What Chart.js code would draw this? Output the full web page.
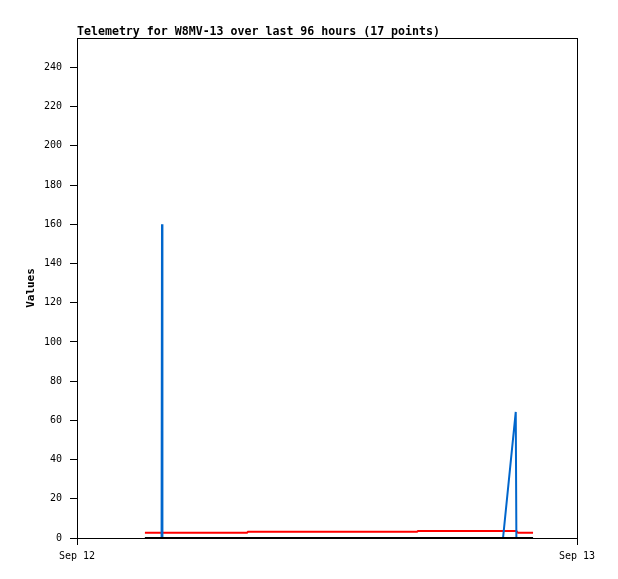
<!DOCTYPE html>
<html lang="en">
<head>
    <meta charset="UTF-8">
    <title>Telemetry for W8MV-13</title>
    <script src="https://cdn.jsdelivr.net/npm/chart.js"></script>
    <style>
        html, body { margin: 0; padding: 0; background: #fff; }
        #wrap { width: 618px; height: 579px; }
    </style>
</head>
<body>
    <div id="wrap"><canvas id="telemetryChart" width="618" height="579"></canvas></div>

    <script>
        // hours after Sep 12 00:00
        const hours = [3.26, 4.06, 4.08, 4.10, 5.90, 8.16, 8.21, 10.70, 13.58, 16.32, 16.37, 18.38, 20.45, 21.06, 21.09, 21.17, 21.89];
        const seriesBlack = [0, 0, 0, 0, 0, 0, 0, 0, 0, 0, 0, 0, 0, 0, 0, 0, 0];
        const seriesBlue  = [0, 0, 160, 0, 0, 0, 0, 0, 0, 0, 0, 0, 0, 64.3, 0, 0, 0];
        const seriesRed   = [2.65, 2.65, 2.65, 2.65, 2.65, 2.65, 3.15, 3.15, 3.15, 3.15, 3.6, 3.6, 3.6, 3.6, 3.6, 2.65, 2.65];
        const yTicks = [0, 20, 40, 60, 80, 100, 120, 140, 160, 180, 200, 220, 240];
        const xTickValues = [0, 24];
        const xTickLabels = ['Sep 12', 'Sep 13'];
        const chartTitle = 'Telemetry for W8MV-13 over last 96 hours (17 points)';

        const mono = "'DejaVu Sans Mono', 'Liberation Mono', monospace";

        function pts(values) {
            return values.map((v, i) => ({ x: hours[i], y: v }));
        }

        const frame = {
            id: 'frame',
            afterDraw(chart) {
                const ctx = chart.ctx;
                const a = chart.chartArea;
                ctx.save();
                ctx.strokeStyle = '#000';
                ctx.lineWidth = 1;
                ctx.strokeRect(a.left + 0.5, a.top + 0.5, a.right - a.left, a.bottom - a.top);
                ctx.fillStyle = '#000';
                ctx.font = 'bold 11.6px ' + mono;
                ctx.textBaseline = 'alphabetic';
                ctx.textAlign = 'left';
                ctx.fillText(chartTitle, a.left, 35);
                ctx.restore();
            }
        };

        const ctx = document.getElementById('telemetryChart').getContext('2d');
        const chart = new Chart(ctx, {
            type: 'line',
            data: {
                datasets: [
                    { label: 'black', data: pts(seriesBlack), borderColor: '#000000', borderWidth: 2 },
                    { label: 'blue', data: pts(seriesBlue), borderColor: '#0066cc', borderWidth: 2 },
                    { label: 'red', data: pts(seriesRed), borderColor: '#ff0000', borderWidth: 2 }
                ]
            },
            options: {
                responsive: false,
                animation: false,
                devicePixelRatio: 1,
                layout: { padding: { top: 38, right: 41, left: 0, bottom: 0 } },
                elements: {
                    point: { radius: 0 },
                    line: { tension: 0, fill: false }
                },
                plugins: {
                    legend: { display: false },
                    tooltip: { enabled: false },
                    title: { display: false }
                },
                scales: {
                    x: {
                        type: 'linear',
                        min: 0,
                        max: 24,
                        afterBuildTicks: scale => { scale.ticks = xTickValues.map(v => ({ value: v })); },
                        afterFit: scale => { scale.height = 41; },
                        ticks: {
                            color: '#000',
                            font: { family: mono, size: 10 },
                            padding: 5,
                            maxRotation: 0,
                            callback: v => xTickLabels[xTickValues.indexOf(v)]
                        },
                        grid: { drawOnChartArea: false, color: '#000', tickLength: 7 },
                        border: { color: '#000' }
                    },
                    y: {
                        min: 0,
                        max: 255,
                        afterBuildTicks: scale => { scale.ticks = yTicks.map(v => ({ value: v })); },
                        afterFit: scale => { scale.width = 77; },
                        ticks: {
                            color: '#000',
                            font: { family: mono, size: 10 },
                            padding: 8
                        },
                        grid: { drawOnChartArea: false, color: '#000', tickLength: 7 },
                        border: { color: '#000' },
                        title: {
                            display: true,
                            text: 'Values',
                            color: '#000',
                            font: { family: mono, size: 11, weight: 'bold' },
                            padding: { top: 25, bottom: 0 }
                        }
                    }
                }
            },
            plugins: [frame]
        });
    </script>
</body>
</html>
